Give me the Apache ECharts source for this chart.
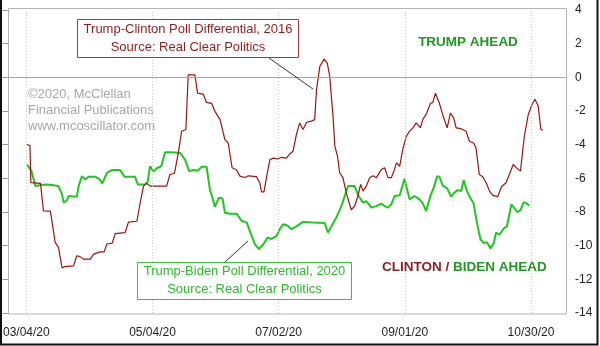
<!DOCTYPE html>
<html>
<head>
<meta charset="utf-8">
<script src="https://cdn.jsdelivr.net/npm/echarts@6/dist/echarts.min.js"></script>
<style>
html,body{margin:0;padding:0;background:#fff;}
#chart{width:600px;height:346px;}
</style>
</head>
<body>
<div id="chart"></div>
<script>
// x positions are trading-day units; 03/04/20 = 6, each label 42 days apart
var tickDays = [6, 48, 90, 132, 174];
var tickLabels = ['03/04/20', '05/04/20', '07/02/20', '09/01/20', '10/30/20'];
var yTicks = [4, 2, 0, -2, -4, -6, -8, -10, -12, -14];

// Trump-Clinton poll differential, 2016
var clintonDay = [6.2,7.2,7.5,10.7,11.3,11.7,14.0,15.6,16.7,17.9,18.6,21.7,22.8,23.9,25.0,27.3,28.4,30.6,31.9,32.8,34.6,35.6,38.9,40.0,42.8,43.9,45.0,46.1,47.2,52.7,53.8,55.3,56.6,57.7,59.1,59.9,62.1,63.0,64.9,66.0,67.7,68.8,70.5,72.1,73.2,74.5,76.0,77.1,78.8,79.9,82.6,83.7,84.3,85.1,86.0,87.1,88.2,89.6,91.0,92.6,93.7,94.8,95.9,97.0,98.1,99.3,100.9,102.0,102.6,103.7,105.1,106.2,107.0,108.1,108.7,109.6,110.3,111.4,112.5,113.6,114.2,115.3,116.4,117.3,118.1,119.2,120.3,121.4,122.5,124.2,125.3,126.4,127.5,128.6,129.2,130.3,131.3,132.5,133.6,134.7,135.8,137.2,138.0,139.1,140.6,141.3,142.2,143.5,144.6,146.1,147.2,148.3,149.1,150.7,152.4,153.5,154.9,155.7,156.8,157.9,159.1,160.2,161.3,162.9,164.2,165.7,166.8,168.1,169.0,170.5,171.8,173.1,174.2,175.3,176.4,177.3,177.9];
var clintonVal = [-4.0,-4.05,-6.26,-6.3,-6.35,-7.94,-7.95,-9.8,-10.1,-11.33,-11.25,-11.2,-10.6,-10.65,-10.8,-10.8,-10.5,-10.37,-10.37,-9.9,-9.85,-9.28,-9.22,-8.6,-8.55,-7.45,-6.46,-6.3,-6.46,-6.46,-5.77,-5.7,-4.49,-3.2,-3.1,0.15,0.15,-0.94,-1.0,-1.49,-1.55,-2.02,-2.51,-3.7,-3.9,-5.37,-5.5,-5.87,-5.95,-5.85,-5.9,-6.26,-6.8,-6.8,-5.9,-4.88,-4.8,-4.85,-4.75,-4.8,-4.55,-4.39,-3.4,-2.71,-3.1,-2.67,-2.6,-2.51,-0.74,0.64,1.08,0.84,0.05,-2.32,-4.09,-4.69,-5.67,-5.96,-6.85,-7.54,-7.88,-7.64,-7.05,-6.36,-6.76,-6.46,-5.97,-5.85,-5.97,-5.47,-5.37,-5.96,-5.96,-5.47,-5.08,-5.28,-4.29,-3.5,-3.2,-3.0,-2.71,-3.0,-2.5,-2.2,-1.53,-1.5,-0.94,-1.53,-2.22,-3.0,-2.12,-2.42,-3.0,-3.05,-3.2,-3.8,-3.9,-4.19,-5.77,-5.9,-6.26,-6.76,-7.01,-7.09,-6.5,-6.26,-5.77,-5.18,-5.35,-5.57,-3.5,-2.22,-1.69,-1.3,-1.69,-3.1,-3.15];

// Trump-Biden poll differential, 2020
var bidenDay = [6.2,7.7,9.0,10.7,12.9,14.5,16.7,17.9,18.4,19.5,20.1,22.8,23.4,24.5,25.6,26.7,28.9,30.3,31.3,32.8,34.5,37.2,38.7,42.2,43.1,45.5,46.4,47.2,48.3,49.4,50.9,52.2,53.8,55.5,57.2,58.8,60.2,61.6,63.0,64.4,66.0,67.1,68.8,70.1,71.3,72.1,73.8,76.0,77.7,79.3,81.0,82.1,83.4,84.8,86.3,87.6,89.3,90.4,91.5,92.9,94.3,95.9,98.1,101.4,105.3,106.4,107.6,109.2,110.9,113.1,115.3,116.6,118.1,119.2,120.9,122.5,124.2,125.3,126.4,127.5,128.6,130.3,131.9,133.6,135.2,136.9,138.0,139.1,140.6,141.6,142.8,143.5,144.6,146.1,147.4,148.5,149.6,150.8,151.6,152.7,153.8,154.9,156.0,157.2,158.3,159.4,160.5,161.6,162.4,163.5,164.9,166.0,167.5,169.4,170.5,171.6,172.7,173.4];
var bidenVal = [-5.18,-5.57,-6.46,-6.4,-6.36,-6.4,-6.46,-6.95,-7.44,-7.3,-7.05,-7.1,-6.46,-5.87,-6.07,-5.9,-5.9,-6.05,-6.3,-5.67,-5.51,-5.51,-5.91,-5.91,-6.36,-6.36,-6.2,-5.28,-5.6,-5.4,-5.28,-4.45,-4.45,-4.47,-4.49,-4.88,-5.57,-5.5,-5.55,-5.31,-5.31,-6.66,-7.68,-7.15,-7.2,-8.04,-8.1,-8.1,-8.53,-8.6,-9.42,-9.91,-10.2,-9.95,-9.52,-9.6,-9.42,-9.02,-8.73,-8.8,-9.02,-8.85,-8.59,-8.62,-8.65,-9.22,-8.85,-8.33,-7.64,-6.46,-6.46,-7.05,-7.44,-7.35,-7.74,-7.65,-7.5,-7.65,-7.74,-7.55,-7.05,-7.0,-6.02,-7.25,-7.05,-7.25,-7.49,-7.94,-7.01,-6.56,-5.87,-5.9,-6.42,-6.6,-7.09,-6.85,-6.7,-6.75,-6.1,-6.76,-7.15,-7.49,-8.63,-9.62,-9.85,-9.8,-10.17,-9.85,-9.22,-9.35,-8.98,-8.85,-7.54,-8.0,-7.9,-7.41,-7.5,-7.64];

function pairs(xs, ys) {
  var out = [];
  for (var i = 0; i < xs.length; i++) out.push([xs[i], ys[i]]);
  return out;
}

var FONT = 'Liberation Sans, Arial, sans-serif';
var chart = echarts.init(document.getElementById('chart'), null, {renderer: 'canvas'});

chart.setOption({
  animation: false,
  backgroundColor: '#fff',
  grid: {left: 8, right: 33, top: 10, bottom: 33, show: false},
  xAxis: {
    type: 'value', min: 0, max: 186,
    axisLine: {show: false},
    axisTick: {show: false, customValues: tickDays},
    splitLine: {show: false},
    axisLabel: {
      customValues: tickDays,
      formatter: function (v) { var k = tickDays.indexOf(v); return k >= 0 ? tickLabels[k] : ''; },
      color: '#222', fontSize: 12, fontFamily: FONT, margin: 14
    }
  },
  yAxis: {
    type: 'value', position: 'right', min: -14, max: 4, interval: 2,
    axisLine: {show: false},
    axisTick: {show: true, inside: true, length: 7, lineStyle: {color: '#999'}},
    splitLine: {show: false},
    axisLabel: {
      color: '#222', fontSize: 12, fontFamily: FONT, margin: 8,
      formatter: function (v) { return yTicks.indexOf(v) >= 0 ? String(v) : ''; }
    }
  },
  series: [
    {
      type: 'line', name: 'Trump-Biden 2020', data: pairs(bidenDay, bidenVal),
      showSymbol: false, symbol: 'none',
      lineStyle: {color: '#1ec81e', width: 2}, z: 3,
      markLine: {
        silent: true, symbol: 'none', label: {show: false},
        data: tickDays.map(function (d) { return {xAxis: d, lineStyle: {color: '#c8c8c8', type: [1, 2], width: 1}}; })
          .concat([{yAxis: 0, lineStyle: {color: '#a8a8a8', type: 'solid', width: 1}}])
      }
    },
    {
      type: 'line', name: 'Trump-Clinton 2016', data: pairs(clintonDay, clintonVal),
      showSymbol: false, symbol: 'none',
      lineStyle: {color: '#9a1414', width: 1.2}, z: 4
    }
  ],
  graphic: [
    {type: 'rect', silent: true, z: 0, shape: {x: 8.5, y: 8.5, width: 558, height: 305.5},
      style: {fill: 'none', stroke: '#b4b4b4', lineWidth: 1}},
    {type: 'polyline', silent: true, z: 100, shape: {points: [[1, 0], [1, 344.5], [597.5, 344.5], [597.5, 0]]},
      style: {fill: 'none', stroke: '#111', lineWidth: 2}},
    // copyright
    {type: 'text', silent: true, z: 2, left: 28, top: 86,
      style: {text: '\u00a92020, McClellan\nFinancial Publications\nwww.mcoscillator.com', fill: '#a6a6a6',
        font: '13px ' + FONT, lineHeight: 16}},
    // Clinton annotation
    {type: 'line', silent: true, z: 20, shape: {x1: 269, y1: 58, x2: 313, y2: 89},
      style: {stroke: '#333', lineWidth: 1}},
    {type: 'rect', silent: true, z: 21, shape: {x: 77.5, y: 19.5, width: 221, height: 38},
      style: {fill: '#fff', stroke: '#a33a3a', lineWidth: 1}},
    {type: 'text', silent: true, z: 22, x: 188, y: 20,
      style: {text: 'Trump-Clinton Poll Differential, 2016\nSource: Real Clear Politics', fill: '#8e1c1c',
        font: '13px ' + FONT, textAlign: 'center', lineHeight: 18}},
    // Biden annotation
    {type: 'line', silent: true, z: 20, shape: {x1: 225, y1: 262, x2: 248, y2: 241},
      style: {stroke: '#333', lineWidth: 1}},
    {type: 'rect', silent: true, z: 21, shape: {x: 137.5, y: 262.5, width: 214, height: 37},
      style: {fill: '#fff', stroke: '#3cbf3c', lineWidth: 1}},
    {type: 'text', silent: true, z: 22, x: 244.5, y: 263,
      style: {text: 'Trump-Biden Poll Differential, 2020\nSource: Real Clear Politics', fill: '#2eb82e',
        font: '13px ' + FONT, textAlign: 'center', lineHeight: 17.5}},
    // region labels
    {type: 'text', silent: true, z: 22, x: 468, y: 35,
      style: {text: 'TRUMP AHEAD', fill: '#1f991f', font: 'bold 13.5px ' + FONT, textAlign: 'center'}},
    {type: 'text', silent: true, z: 22, x: 382, y: 260,
      style: {text: '{r|CLINTON /} {g|BIDEN AHEAD}', font: 'bold 13.5px ' + FONT,
        rich: {r: {fill: '#8e1c1c', font: 'bold 13.5px ' + FONT}, g: {fill: '#1f991f', font: 'bold 13.5px ' + FONT}}}}
  ]
});
</script>
</body>
</html>
